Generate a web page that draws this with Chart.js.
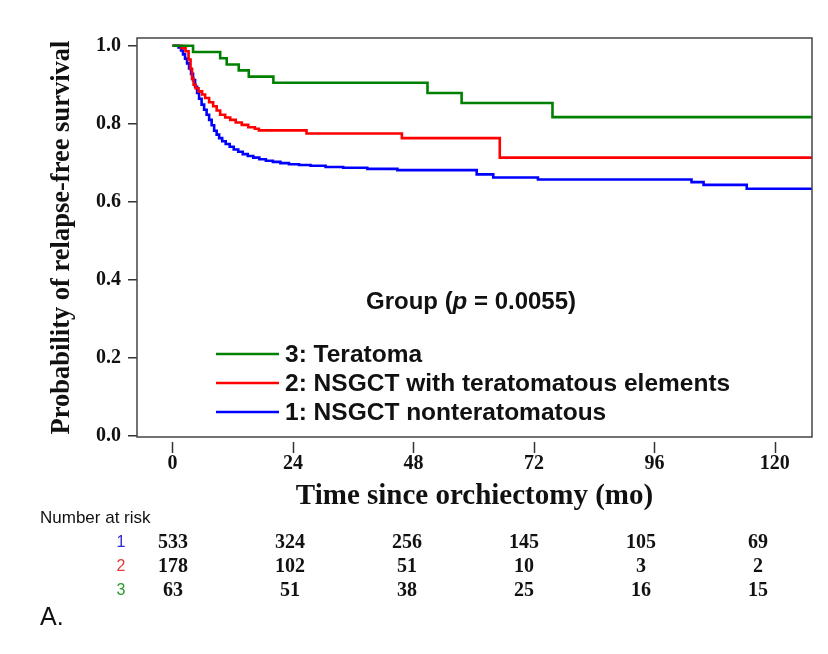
<!DOCTYPE html>
<html lang="en">
<head>
    <meta charset="UTF-8">
    <title>Relapse-free survival by group</title>
    <script src="https://cdn.jsdelivr.net/npm/chart.js"></script>
    <style>
        html, body { margin: 0; padding: 0; background: #fff; }
        #wrap { width: 828px; height: 654px; }
    </style>
</head>
<body>
    <div id="wrap"><canvas id="kmChart" width="828" height="654"></canvas></div>

    <script>
        // Kaplan-Meier steps (months, survival)
        var greenTime = [0, 4.1, 9.5, 10.8, 13.2, 15.2, 20.1, 50.8, 57.6, 75.7, 127.4];
        var greenSurv = [1.0, 0.984, 0.968, 0.952, 0.937, 0.921, 0.905, 0.879, 0.853, 0.817, 0.817];

        var redTime = [0, 1.8, 2.6, 3.2, 3.6, 3.9, 4.2, 4.6, 5.2, 5.9, 6.5, 7.3, 8.1, 8.8, 9.5, 10.5, 11.5, 12.6, 13.8, 15.1, 16.4, 17.2, 26.7, 45.7, 65.2, 127.4];
        var redSurv = [1.0, 0.994, 0.986, 0.965, 0.940, 0.915, 0.900, 0.891, 0.883, 0.875, 0.866, 0.855, 0.845, 0.834, 0.823, 0.816, 0.810, 0.803, 0.797, 0.791, 0.787, 0.783, 0.775, 0.763, 0.713, 0.713];

        var blueTime = [0, 1.2, 1.7, 2.1, 2.5, 2.9, 3.3, 3.7, 4.1, 4.5, 4.9, 5.3, 5.8, 6.3, 6.8, 7.3, 7.8, 8.3, 8.8, 9.3, 9.9, 10.6, 11.4, 12.2, 13.1, 14.0, 15.0, 16.1, 17.3, 18.6, 20.0, 21.5, 23.2, 25.2, 27.5, 30.5, 34.0, 38.8, 44.8, 60.6, 63.9, 72.8, 103.4, 105.8, 114.4, 127.4];
        var blueSurv = [1.0, 0.996, 0.988, 0.978, 0.967, 0.955, 0.942, 0.928, 0.912, 0.895, 0.879, 0.864, 0.849, 0.836, 0.823, 0.810, 0.796, 0.782, 0.772, 0.763, 0.755, 0.748, 0.741, 0.734, 0.728, 0.722, 0.717, 0.713, 0.709, 0.705, 0.702, 0.699, 0.696, 0.694, 0.692, 0.689, 0.687, 0.684, 0.681, 0.670, 0.662, 0.657, 0.650, 0.643, 0.633, 0.633];

        var xTicks = [0, 24, 48, 72, 96, 120];
        var yTicks = [0, 0.2, 0.4, 0.6, 0.8, 1.0];

        var legendLabels = ['3: Teratoma', '2: NSGCT with teratomatous elements', '1: NSGCT nonteratomatous'];
        var lineColors = ['#008000', '#ff0000', '#0000ff'];

        // number at risk
        var riskRowLabels = ['1', '2', '3'];
        var riskRowColors = ['#2a2ad8', '#e03a3a', '#2a9a2a'];
        var risk1 = [533, 324, 256, 145, 105, 69];
        var risk2 = [178, 102, 51, 10, 3, 2];
        var risk3 = [63, 51, 38, 25, 16, 15];

        var SERIF = '"Liberation Serif", "Times New Roman", serif';
        var SANS = '"Liberation Sans", Arial, sans-serif';

        function toPoints(t, s) {
            return t.map(function(v, i) { return { x: v, y: s[i] }; });
        }

        function kmDataset(label, t, s, color) {
            return {
                label: label,
                data: toPoints(t, s),
                borderColor: color,
                borderWidth: 2.6,
                pointRadius: 0,
                stepped: true,
                fill: false,
                tension: 0
            };
        }

        var decorPlugin = {
            id: 'kmDecor',
            beforeDraw: function(chart) {
                var ctx = chart.ctx;
                ctx.save();
                ctx.fillStyle = '#fff';
                ctx.fillRect(0, 0, chart.width, chart.height);
                ctx.restore();
            },
            afterDraw: function(chart) {
                var ctx = chart.ctx;
                var a = chart.chartArea;
                var xs = chart.scales.x;
                ctx.save();

                // frame
                ctx.strokeStyle = '#444';
                ctx.lineWidth = 1.5;
                ctx.strokeRect(a.left, a.top, a.right - a.left, a.bottom - a.top);

                // detached x tick marks
                ctx.strokeStyle = '#333';
                xTicks.forEach(function(v) {
                    var px = Math.round(xs.getPixelForValue(v)) + 0.5;
                    ctx.beginPath();
                    ctx.moveTo(px, a.bottom + 5);
                    ctx.lineTo(px, a.bottom + 16);
                    ctx.stroke();
                });

                // group title with italic p
                ctx.fillStyle = '#111';
                ctx.textBaseline = 'middle';
                ctx.textAlign = 'left';
                var parts = [['Group (', 'bold 24px ' + SANS], ['p', 'italic bold 24px ' + SANS], [' = 0.0055)', 'bold 24px ' + SANS]];
                var total = 0;
                parts.forEach(function(p) { ctx.font = p[1]; total += ctx.measureText(p[0]).width; });
                var gx = 471 - total / 2;
                parts.forEach(function(p) {
                    ctx.font = p[1];
                    ctx.fillText(p[0], gx, 302);
                    gx += ctx.measureText(p[0]).width;
                });

                // legend
                var ly = [354, 383, 412];
                ctx.font = 'bold 24.5px ' + SANS;
                legendLabels.forEach(function(lbl, i) {
                    ctx.strokeStyle = lineColors[i];
                    ctx.lineWidth = 2.5;
                    ctx.beginPath();
                    ctx.moveTo(216, ly[i]);
                    ctx.lineTo(279, ly[i]);
                    ctx.stroke();
                    ctx.fillStyle = '#111';
                    ctx.fillText(lbl, 285, ly[i] + 1);
                });

                // number at risk table
                ctx.font = '17px ' + SANS;
                ctx.fillStyle = '#111';
                ctx.fillText('Number at risk', 40, 518);
                var rows = [risk1, risk2, risk3];
                var rowY = [543, 567, 591];
                rows.forEach(function(row, r) {
                    ctx.font = '16px ' + SANS;
                    ctx.textAlign = 'center';
                    ctx.fillStyle = riskRowColors[r];
                    ctx.fillText(riskRowLabels[r], 121, rowY[r]);
                    ctx.font = 'bold 20px ' + SERIF;
                    ctx.fillStyle = '#111';
                    row.forEach(function(n, c) {
                        ctx.fillText(String(n), 173 + c * 117, rowY[r]);
                    });
                });

                // panel letter
                ctx.textAlign = 'left';
                ctx.font = '25px ' + SANS;
                ctx.fillStyle = '#111';
                ctx.fillText('A.', 40, 618);

                ctx.restore();
            }
        };

        new Chart(document.getElementById('kmChart').getContext('2d'), {
            type: 'line',
            data: {
                datasets: [
                    kmDataset(legendLabels[0], greenTime, greenSurv, lineColors[0]),
                    kmDataset(legendLabels[1], redTime, redSurv, lineColors[1]),
                    kmDataset(legendLabels[2], blueTime, blueSurv, lineColors[2])
                ]
            },
            options: {
                responsive: false,
                animation: false,
                layout: { padding: { left: 0, top: 38, right: 16, bottom: 140 } },
                plugins: {
                    legend: { display: false },
                    tooltip: { enabled: false }
                },
                scales: {
                    x: {
                        type: 'linear',
                        min: -7.07,
                        max: 127.4,
                        afterBuildTicks: function(s) { s.ticks = xTicks.map(function(v) { return { value: v }; }); },
                        afterFit: function(s) { s.height = 77; },
                        border: { display: false },
                        grid: { display: false, drawTicks: false },
                        ticks: {
                            padding: 15,
                            color: '#111',
                            font: { family: SERIF, size: 20, weight: 'bold' },
                            maxRotation: 0
                        },
                        title: {
                            display: true,
                            text: 'Time since orchiectomy (mo)',
                            color: '#111',
                            font: { family: SERIF, size: 29, weight: 'bold' },
                            padding: { top: 0, bottom: 0 }
                        }
                    },
                    y: {
                        min: -0.004,
                        max: 1.02,
                        afterBuildTicks: function(s) { s.ticks = yTicks.map(function(v) { return { value: v }; }); },
                        afterFit: function(s) { s.width = 137; },
                        border: { display: false },
                        grid: {
                            drawOnChartArea: false,
                            drawTicks: true,
                            tickLength: 9,
                            color: '#333',
                            lineWidth: 1.5
                        },
                        ticks: {
                            padding: 7,
                            color: '#111',
                            font: { family: SERIF, size: 20, weight: 'bold' },
                            callback: function(v) { return Number(v).toFixed(1); }
                        },
                        title: {
                            display: true,
                            text: 'Probability of relapse-free survival',
                            color: '#111',
                            font: { family: SERIF, size: 26.5, weight: 'bold' },
                            padding: { top: 46, bottom: 0 }
                        }
                    }
                }
            },
            plugins: [decorPlugin]
        });
    </script>
</body>
</html>
